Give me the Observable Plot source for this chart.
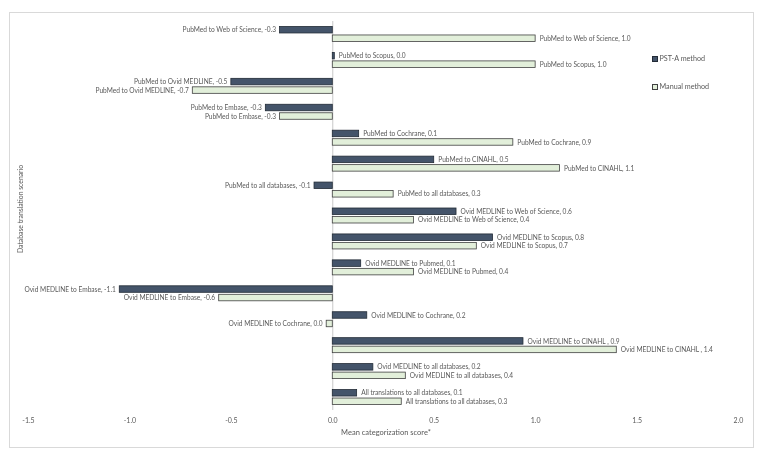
<!DOCTYPE html>
<html>
<head>
<meta charset="utf-8">
<script src="https://cdn.jsdelivr.net/npm/d3@7"></script>
<script src="https://cdn.jsdelivr.net/npm/@observablehq/plot@0.6"></script>
<style>
  body { margin: 0; background: #fff; }
  #wrap { position: relative; width: 763px; height: 460px; font-family: Lato, "Liberation Sans", sans-serif; }
  #border { position: absolute; left: 9px; top: 12px; width: 743px; height: 434px; border: 1px solid #d9d9d9; box-sizing: content-box; }
  #chart { position: absolute; left: 0; top: 0; will-change: transform; }
  .leg { position: absolute; font-size: 7.2px; color: #595959; white-space: nowrap; line-height: 8px; }
  .sw { display: inline-block; width: 4px; height: 4px; vertical-align: middle; margin-right: 1.5px; margin-top: -1px; }
  #ytitle { position: absolute; left: 20px; top: 209px; transform: translate(-50%, -50%) rotate(-90deg); font-size: 6.8px; color: #595959; white-space: nowrap; }
  #xtitle { position: absolute; left: 386px; top: 432px; transform: translate(-50%, -50%); font-size: 7.5px; color: #595959; white-space: nowrap; }
</style>
</head>
<body>
<div id="wrap">
  <div id="border"></div>
  <div id="chart"></div>
  <div class="leg" style="left:652px; top:55px;"><span class="sw" style="background:#44546a;border:0.5px solid #222b36;"></span>PST-A method</div>
  <div class="leg" style="left:652px; top:83px;"><span class="sw" style="background:#e2efda;border:0.5px solid #404040;"></span>Manual method</div>
  <div id="ytitle">Database translation scenario</div>
  <div id="xtitle">Mean categorization score*</div>
</div>
<script>
const categories = [
  "PubMed to Web of Science",
  "PubMed to Scopus",
  "PubMed to Ovid MEDLINE",
  "PubMed to Embase",
  "PubMed to Cochrane",
  "PubMed to CINAHL",
  "PubMed to all databases",
  "Ovid MEDLINE to Web of Science",
  "Ovid MEDLINE to Scopus",
  "Ovid MEDLINE to Pubmed",
  "Ovid MEDLINE to Embase",
  "Ovid MEDLINE to Cochrane",
  "Ovid MEDLINE to CINAHL ",
  "Ovid MEDLINE to all databases",
  "All translations to all databases"
];
const methods = ["PST-A method", "Manual method"];
const pstA   = [-0.26, 0.01, -0.50, -0.33, 0.13, 0.50, -0.09, 0.61, 0.79, 0.14, -1.05, 0.17, 0.94, 0.20, 0.12];
const manual = [1.00, 1.00, -0.69, -0.26, 0.89, 1.12, 0.30, 0.40, 0.71, 0.40, -0.56, -0.03, 1.40, 0.36, 0.34];
const xTicks = [-1.5, -1.0, -0.5, 0.0, 0.5, 1.0, 1.5, 2.0];

const fmt = v => {
  const s = Math.abs(v).toFixed(1);
  return (v < 0 && s !== "0.0" ? "-" : "") + s;
};

const data = [];
categories.forEach((c, i) => {
  data.push({cat: c, method: methods[0], value: pstA[i]});
  data.push({cat: c, method: methods[1], value: manual[i]});
});
data.forEach(d => d.label = d.cat + ", " + fmt(d.value));
const pst = data.filter(d => d.method === methods[0]);
const man = data.filter(d => d.method === methods[1]);

const font = "Lato, Liberation Sans, sans-serif";
const H = 460, MT = 21, MB = 50;
const step = (H - MT - MB) / categories.length;
const half = step / 2;
const barH = 6.5, gap = 2;
const outer = half - gap / 2 - barH;
const inner = half + gap / 2;
const off = gap / 2 + barH / 2;

const labelOpts = {fill: "#595959", fontSize: 6.6};
const textMarks = (rows, dy) => [
  Plot.text(rows.filter(d => d.value >= 0), {x: "value", y: "cat", text: "label", textAnchor: "start", dx: 4, dy, ...labelOpts}),
  Plot.text(rows.filter(d => d.value < 0), {x: "value", y: "cat", text: "label", textAnchor: "end", dx: -4, dy, ...labelOpts})
];

const chart = Plot.plot({
  width: 763,
  height: H,
  marginLeft: 28,
  marginRight: 25,
  marginTop: MT,
  marginBottom: MB,
  style: {fontFamily: font, fontSize: "7px", color: "#595959", background: "transparent"},
  x: {domain: [-1.5, 2.0], ticks: xTicks, tickFormat: d => d.toFixed(1), tickSize: 0, tickPadding: 8, label: null},
  y: {domain: categories, padding: 0, round: false, axis: null},
  marks: [
    Plot.ruleX([0], {stroke: "#c8c8c8", strokeWidth: 1}),
    Plot.barX(pst, {x: "value", y: "cat", insetTop: outer, insetBottom: inner, fill: "#44546a", stroke: "#222b36", strokeWidth: 0.8}),
    Plot.barX(man, {x: "value", y: "cat", insetTop: inner, insetBottom: outer, fill: "#e2efda", stroke: "#404040", strokeWidth: 0.8}),
    ...textMarks(pst, -off),
    ...textMarks(man, off)
  ]
});
document.getElementById("chart").appendChild(chart);
</script>
</body>
</html>
